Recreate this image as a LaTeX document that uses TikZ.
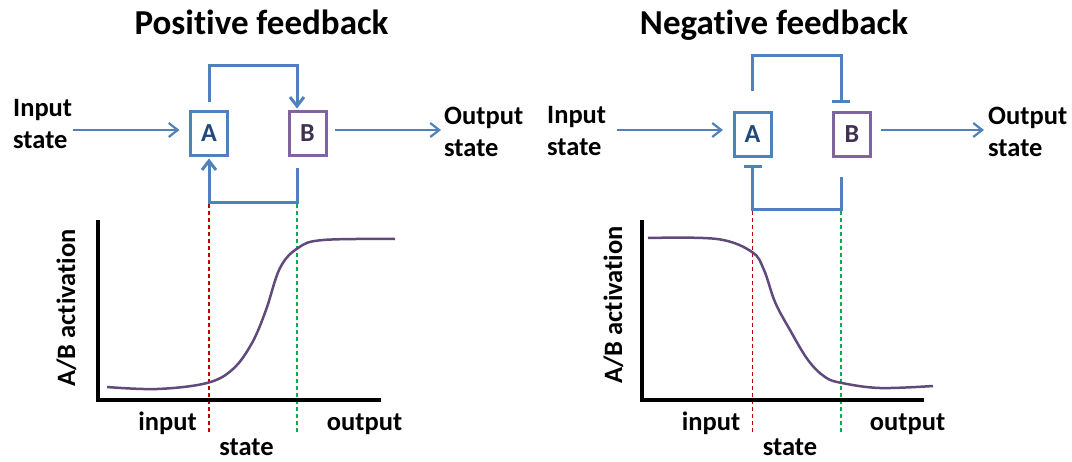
\documentclass[tikz,border=0pt]{standalone}
\usepackage{fontspec}
\setmainfont{Carlito}[Ligatures=NoCommon]
\usetikzlibrary{arrows.meta}
\definecolor{lblue}{HTML}{4F81BD}
\definecolor{purp}{HTML}{8064A2}
\definecolor{darkblue}{HTML}{1F497D}
\definecolor{darkpurp}{HTML}{3F3151}
\definecolor{curvec}{HTML}{604A7B}
\definecolor{dred}{HTML}{C00000}
\definecolor{dgreen}{HTML}{00B050}
\begin{document}
\begin{tikzpicture}[x=1pt,y=-1pt,
 box/.style={draw, line width=3pt, minimum width=37pt, minimum height=44pt, inner sep=0pt, font=\fontsize{26}{30}\selectfont\bfseries},
 boxa/.style={box, draw=lblue, text=darkblue},
 boxb/.style={box, draw=purp, text=darkpurp},
 lbl/.style={font=\fontsize{26.5}{32}\selectfont\bfseries, align=left, inner sep=0pt},
 ttl/.style={font=\fontsize{35}{40}\selectfont\bfseries, inner sep=0pt},
 flow/.style={draw=lblue, line width=2.2pt, -{Straight Barb[length=9pt,width=14pt]}},
 fb/.style={draw=lblue, line width=3pt},
 act/.style={fb, -{Straight Barb[length=9pt,width=14pt]}},
 inh/.style={fb, -{Bar[width=18pt]}},
 axis/.style={line width=3.2pt, black},
 curve/.style={line width=2.5pt, curvec},
 rdash/.style={draw=dred, line width=1.5pt, dash pattern=on 4pt off 3pt},
 gdash/.style={draw=dgreen, line width=1.5pt, dash pattern=on 4pt off 3pt}
]
\useasboundingbox (0,0) rectangle (1072,461);

% ---------- Positive feedback ----------
\node[ttl, anchor=base] (t1) at (261.5,34) {Positive feedback};
\node[boxa] (A1) at (209,133.5) {A};
\node[boxb] (B1) at (307.5,133.5) {B};
\node[lbl, anchor=west] (in1) at (13,124) {Input\\state};
\node[lbl, anchor=west] (out1) at (444,132) {Output\\state};
\coordinate (in1s) at (73,130);
\coordinate (out1e) at (441,130);
\draw[flow, shorten >=9.5pt] (in1s) -- (A1.west |- in1s);
\draw[flow, shorten <=7.5pt] (B1.east |- out1e) -- (out1e);
\draw[act] ([yshift=8.5pt]A1.north) |- ([xshift=-10.5pt,yshift=44.5pt]B1.north) -- ([xshift=-10.5pt,yshift=1.5pt]B1.north);
\draw[act] ([xshift=-10.5pt,yshift=-10.5pt]B1.south) |- ([yshift=-45.5pt]A1.south) -- ([yshift=-1.5pt]A1.south);
\draw[rdash] ([yshift=-47pt]A1.south) -- ++(0,228);
\draw[gdash] ([xshift=-10.5pt,yshift=-47pt]B1.south) -- ++(0,228);
\draw[axis] (98,220) -- (98,400) -- (381,400);
\draw[curve] plot[smooth, tension=0.6] coordinates {(107,387) (157,389) (207,383) (233,369) (252,343) (266,310) (280,268) (298,248) (323,240) (395,239)};
\node[lbl, rotate=90, anchor=base] (ya1) at (75,308) {A/B activation};
\node[lbl, anchor=base] (xi1) at (167.5,430) {input};
\node[lbl, anchor=base] (xo1) at (364.5,430) {output};
\node[lbl, anchor=base] (xs1) at (246.5,455.5) {state};

% ---------- Negative feedback ----------
\node[ttl, anchor=base] (t2) at (774,34) {Negative feedback};
\node[boxa] (A2) at (752.5,134) {A};
\node[boxb] (B2) at (852,134) {B};
\node[lbl, anchor=west] (in2) at (547,131.5) {Input\\state};
\node[lbl, anchor=west] (out2) at (988,132) {Output\\state};
\coordinate (in2s) at (617,130);
\coordinate (out2e) at (984,130);
\draw[flow, shorten >=9.5pt] (in2s) -- (A2.west |- in2s);
\draw[flow, shorten <=8.5pt] (B2.east |- out2e) -- (out2e);
\draw[inh] ([yshift=19.5pt]A2.north) |- ([xshift=-11pt,yshift=55.5pt]B2.north) -- ([xshift=-11pt,yshift=7.5pt]B2.north);
\draw[inh] ([xshift=-11pt,yshift=-19.5pt]B2.south) |- ([yshift=-51.5pt]A2.south) -- ([yshift=-7.5pt]A2.south);
\draw[rdash] ([yshift=-53pt]A2.south) -- ++(0,223);
\draw[gdash] ([xshift=-11pt,yshift=-53pt]B2.south) -- ++(0,223);
\draw[axis] (642,220) -- (642,400) -- (924,400);
\draw[curve] plot[smooth, tension=0.6] coordinates {(648,238) (717,239) (752,252) (764,270) (775,302) (790,330) (808,360) (825,377) (842,383) (880,388) (933,386)};
\node[lbl, rotate=90, anchor=base] (ya2) at (622,305) {A/B activation};
\node[lbl, anchor=base] (xi2) at (711,430) {input};
\node[lbl, anchor=base] (xo2) at (907.5,430) {output};
\node[lbl, anchor=base] (xs2) at (790,455.5) {state};
\end{tikzpicture}
\end{document}
